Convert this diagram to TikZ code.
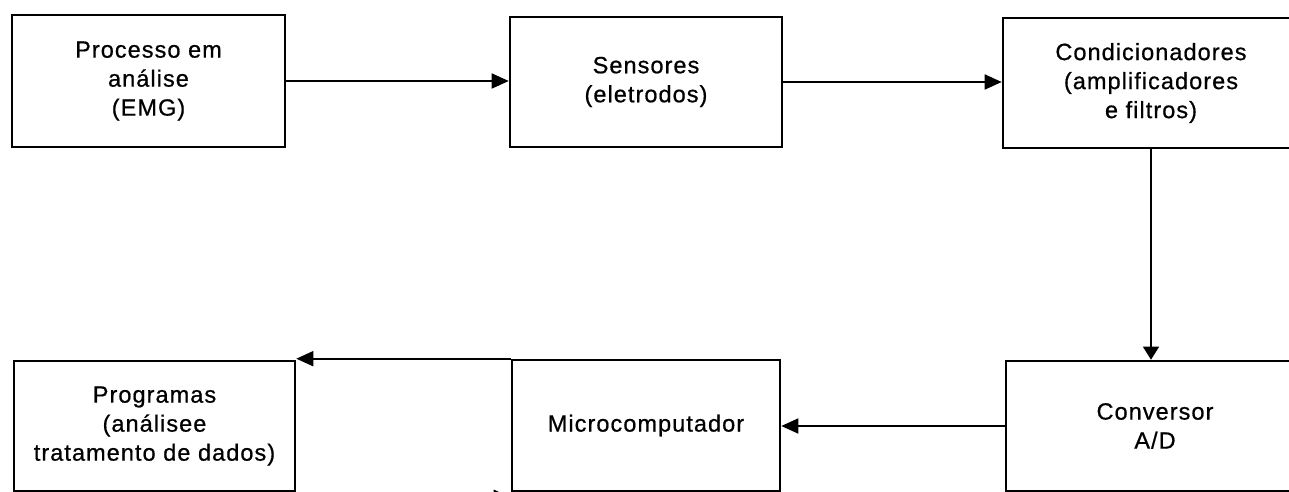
\documentclass[tikz,border=0pt]{standalone}
\usepackage{fontspec}
\setmainfont{Liberation Sans}[LetterSpace=4.5, FakeBold=0.7]
\usetikzlibrary{arrows.meta}
\begin{document}
\begin{tikzpicture}[x=1pt,y=-1pt,
  box/.style={draw, line width=2.6pt, rectangle, inner sep=0pt, align=center,
              font=\fontsize{23.5pt}{29pt}\selectfont},
  arr/.style={line width=1.8pt, -{Triangle[length=17pt,width=15pt]}},
  varr/.style={line width=1.2pt, -{Triangle[length=13pt,width=16pt]}},
]
\useasboundingbox (0,0) rectangle (1289,492);

% top row
\node[box, minimum width=273pt, minimum height=132pt] (proc) at (148.5,81)
  {Processo em\\análise\\(EMG)};
\node[box, minimum width=272pt, minimum height=130pt] (sens) at (646,82)
  {Sensores\\(eletrodos)};
\node[box, minimum width=296pt, minimum height=130pt] (cond) at (1151,83)
  {Condicionadores\\(amplificadores\\e filtros)};

% bottom row
\node[box, minimum width=281pt, minimum height=130pt] (prog) at (154.5,426)
  {Programas\\(análisee\\tratamento de dados)};
\node[box, minimum width=268pt, minimum height=131pt] (micro) at (646,425.5)
  {Microcomputador};
\node[box, minimum width=298pt, minimum height=130pt] (conv) at (1155,426)
  {Conversor\\A/D};

% connectors
\draw[arr] (proc.east) -- (proc.east -| sens.west);
\draw[arr] (sens.east) -- (sens.east -| cond.west);
\draw[varr] (cond.south) -- (cond.south |- conv.north);
\draw[arr] (conv.west) -- (conv.west -| micro.east);
\draw[arr] (micro.north west) -- (micro.north west -| prog.east);
\draw[arr] ([yshift=-5pt]prog.south east) -- ([yshift=-5pt]prog.south east -| micro.west);
\end{tikzpicture}
\end{document}
